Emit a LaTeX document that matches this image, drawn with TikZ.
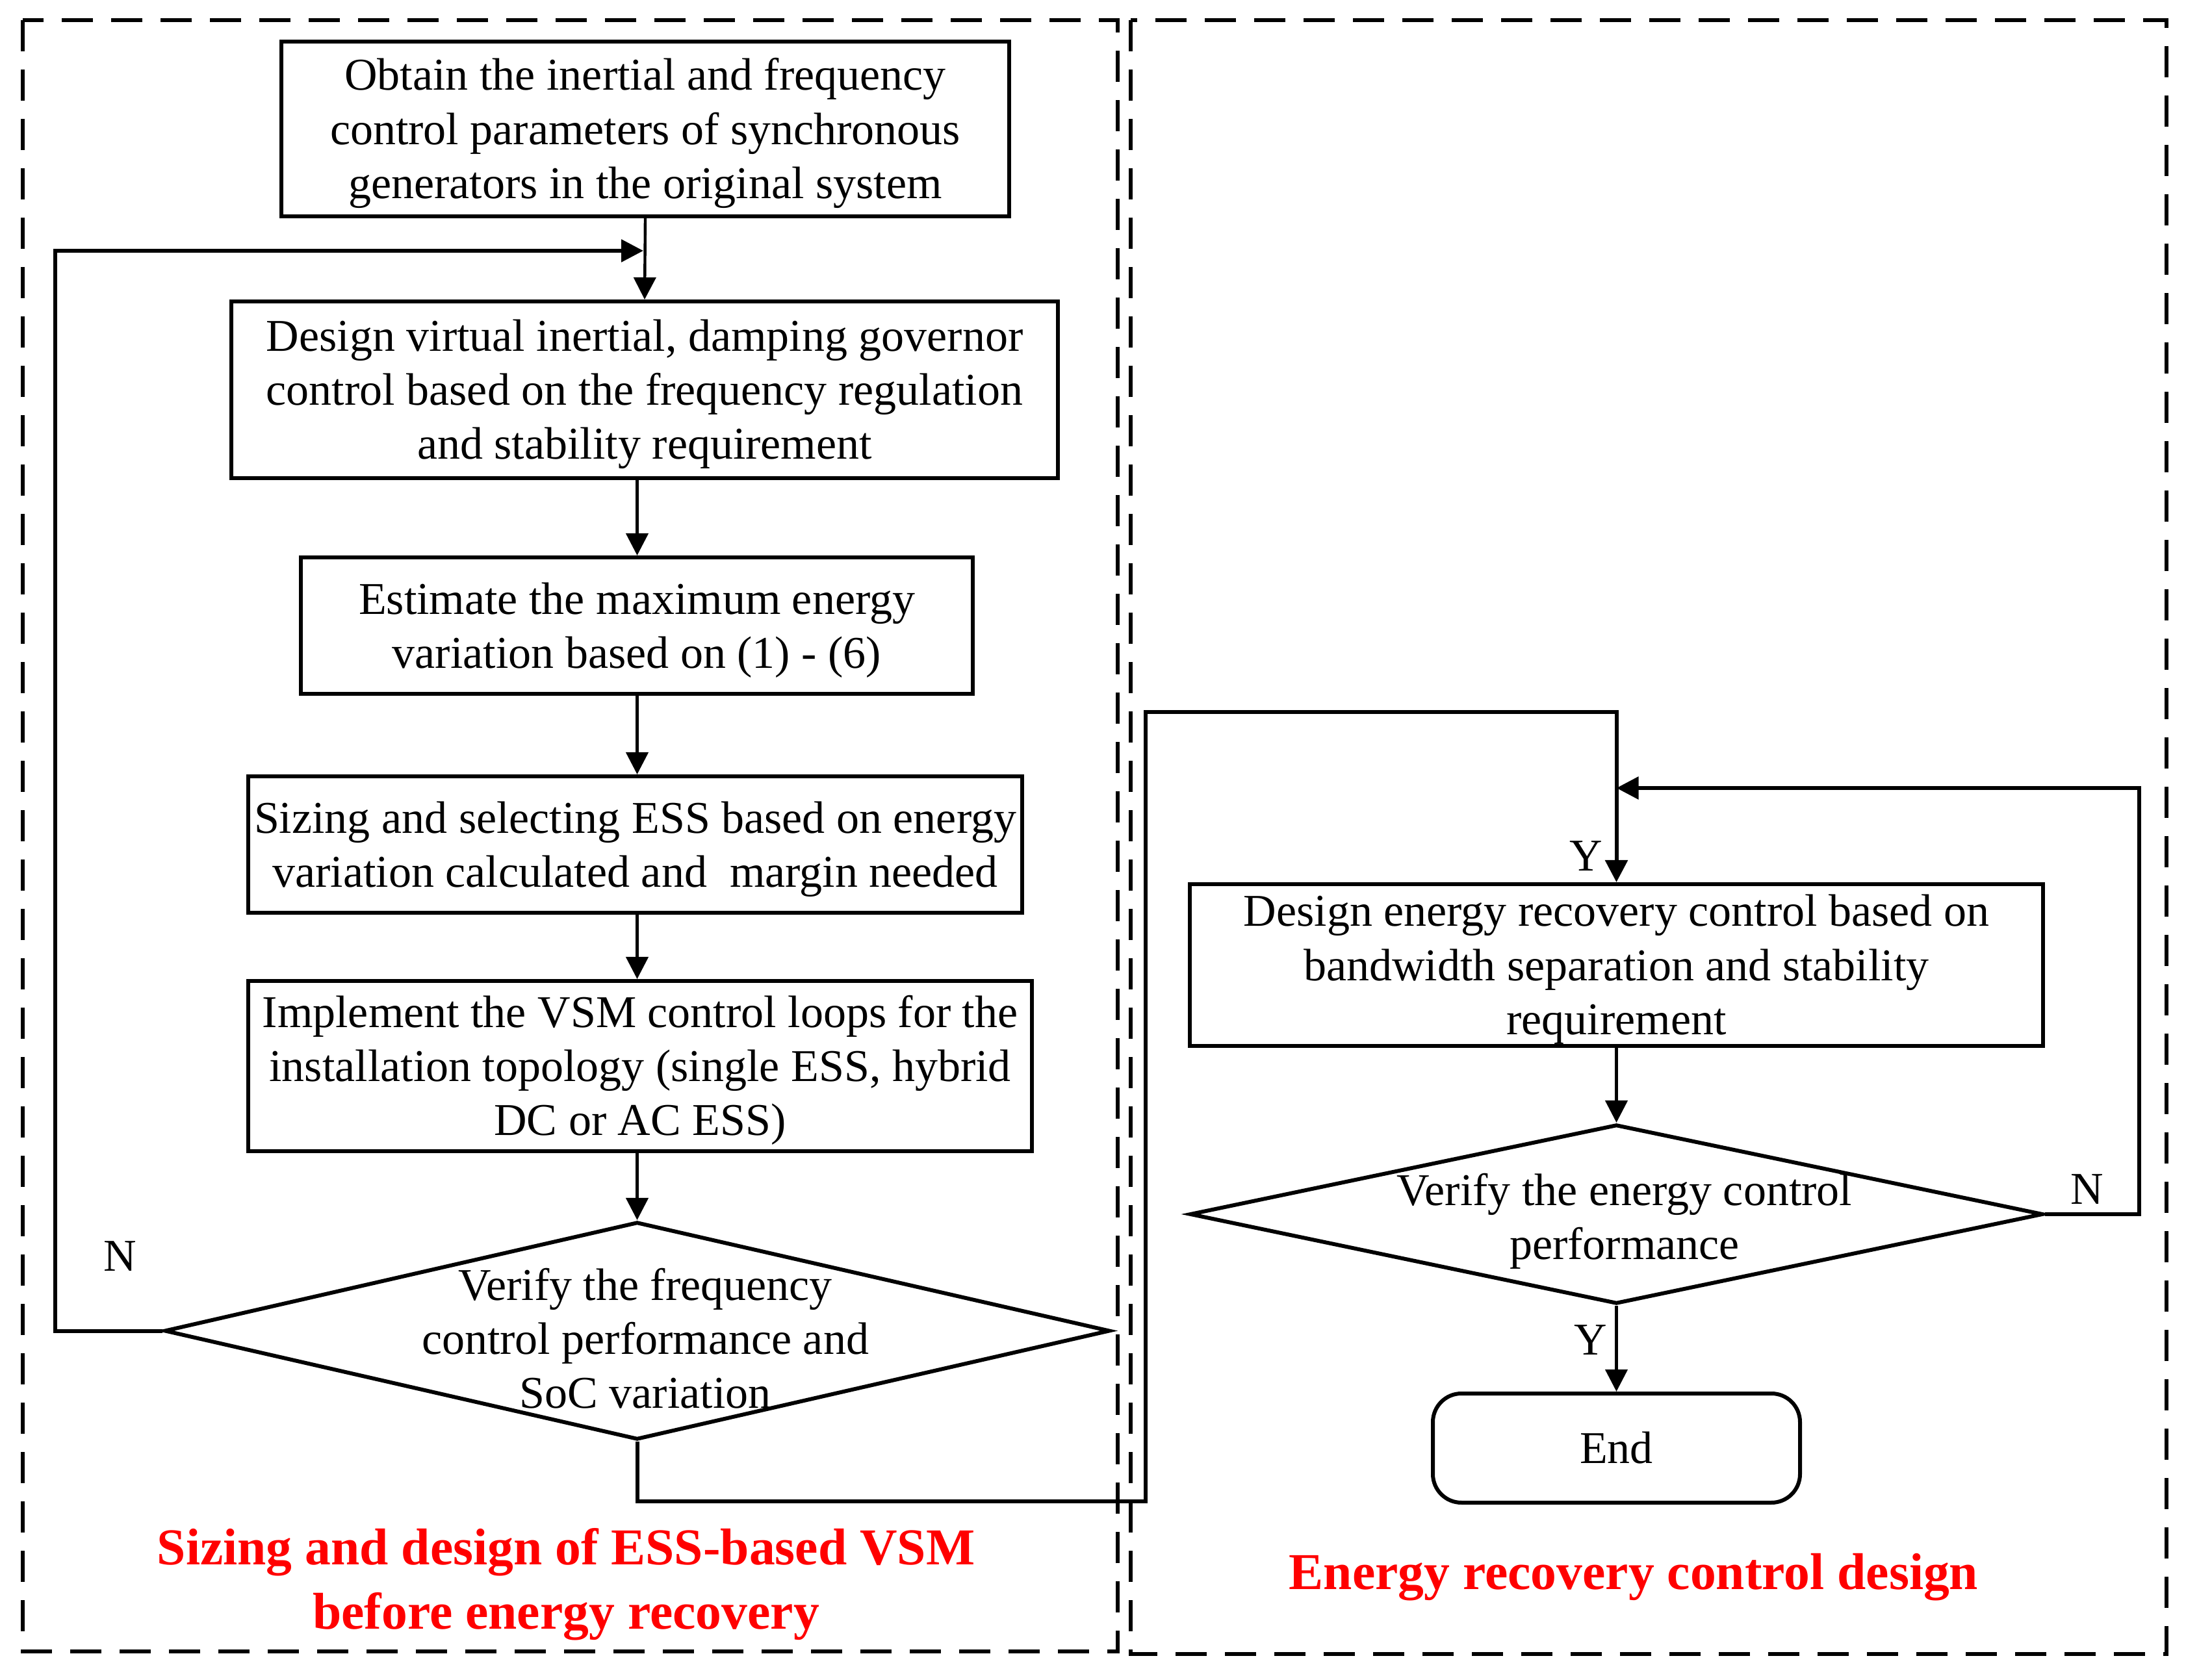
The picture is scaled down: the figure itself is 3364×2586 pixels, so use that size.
\documentclass[tikz,border=0pt]{standalone}
\usepackage{fontspec}
\setmainfont{Liberation Serif}
\usetikzlibrary{arrows.meta,shapes.geometric}
\newcommand\vstrut{\rule[-0.216em]{0pt}{1.107em}}
\begin{document}
\begin{tikzpicture}[x=0.25pt,y=-0.25pt,
  box/.style={draw,line width=1.5pt,rectangle,inner sep=0pt,align=center,font=\fontsize{17.5}{20.8}\selectfont},
  dia/.style={draw,line width=1.5pt,diamond,inner sep=0pt},
  txt/.style={align=center,font=\fontsize{17.5}{20.8}\selectfont,inner sep=0pt},
  arr/.style={line width=1.1pt,-{Triangle[length=8.5pt,width=8.5pt]}},
  looparr/.style={line width=1.5pt,-{Triangle[length=8.5pt,width=8.5pt]}},
  frame/.style={line width=1.3pt,dash pattern=on 12pt off 7pt},
  title/.style={text=red,font=\fontsize{19.9}{24.7}\selectfont\bfseries,align=center,inner sep=0pt}
]
\useasboundingbox (0,0) rectangle (3364,2586);
% frames
\draw[frame] (35,31) rectangle (1720,2542);
\draw[frame] (1740,31) rectangle (3334,2546);
% left column
\node[box,minimum width=280pt,minimum height=67.25pt] (b1) at (993,198.5)
  {\vstrut Obtain the inertial and frequency\\\vstrut control parameters of synchronous\\\vstrut generators in the original system};
\node[box,minimum width=318pt,minimum height=68pt] (b2) at (992,600)
  {\vstrut Design virtual inertial, damping governor\\\vstrut control based on the frequency regulation\\\vstrut and stability requirement};
\node[box,minimum width=258.5pt,minimum height=52.5pt] (b3) at (980,963)
  {\vstrut Estimate the maximum energy\\\vstrut variation based on (1) - (6)};
\node[box,minimum width=297.75pt,minimum height=52.5pt] (b4) at (977.5,1300)
  {\vstrut Sizing and selecting ESS based on energy\\\vstrut variation calculated and \ margin needed};
\node[box,minimum width=301.5pt,minimum height=65.5pt] (b5) at (985,1641)
  {\vstrut Implement the VSM control loops for the\\\vstrut installation topology (single ESS, hybrid\\\vstrut DC or AC ESS)};
\node[dia,minimum width=363.75pt,minimum height=83.75pt] (d1) at (980.5,2048.5) {};
\node[txt] (d1t) at (993,2061) {\vstrut Verify the frequency\\\vstrut control performance and\\\vstrut SoC variation};
% right column
\node[box,minimum width=328.25pt,minimum height=62.25pt] (b6) at (2487.5,1485.5)
  {\vstrut Design energy recovery control based on\\\vstrut bandwidth separation and stability\\\vstrut requirement};
\node[dia,minimum width=328.25pt,minimum height=69pt] (d2) at (2487.5,1869) {};
\node[txt] (d2t) at (2500,1873) {\vstrut Verify the energy control\\\vstrut performance};
\node[box,rounded corners=11pt,minimum width=141.25pt,minimum height=42pt] (end) at (2487.5,2229) {\vstrut End};
% coordinates
\coordinate (j1) at (990,386);
\coordinate (nL) at (85,386);
\coordinate (cR) at (1763,2311);
\coordinate (cT) at (1763,1096);
\coordinate (j2) at (2487.5,1213);
\coordinate (nR) at (3292,1213);
% connectors
\draw[arr] (b1.south) -- (b2.north);
\draw[arr] (b2.south -| d1.north) -- (b3.north -| d1.north);
\draw[arr] (b3.south -| d1.north) -- (b4.north -| d1.north);
\draw[arr] (b4.south -| d1.north) -- (b5.north -| d1.north);
\draw[arr] (b5.south -| d1.north) -- (d1.north);
\draw[looparr] (d1.west) -| (nL) -- (j1);
\draw[looparr] (d1.south) |- (cR) -- (cT) -| (b6.north);
\draw[arr] (b6.south) -- (d2.north);
\draw[arr] (d2.south) -- (end.north);
\draw[looparr] (d2.east) -| (nR) -- (j2);
% labels
\node[txt] (lN1) at (184.5,1933) {\vstrut N};
\node[txt] (lY1) at (2441,1317) {\vstrut Y};
\node[txt] (lN2) at (3212,1830) {\vstrut N};
\node[txt] (lY2) at (2448,2062) {\vstrut Y};
\node[title] (t1) at (871,2431) {\vstrut Sizing and design of ESS-based VSM\\\vstrut before energy recovery};
\node[title] (t2) at (2514,2420) {\vstrut Energy recovery control design};
\end{tikzpicture}
\end{document}
